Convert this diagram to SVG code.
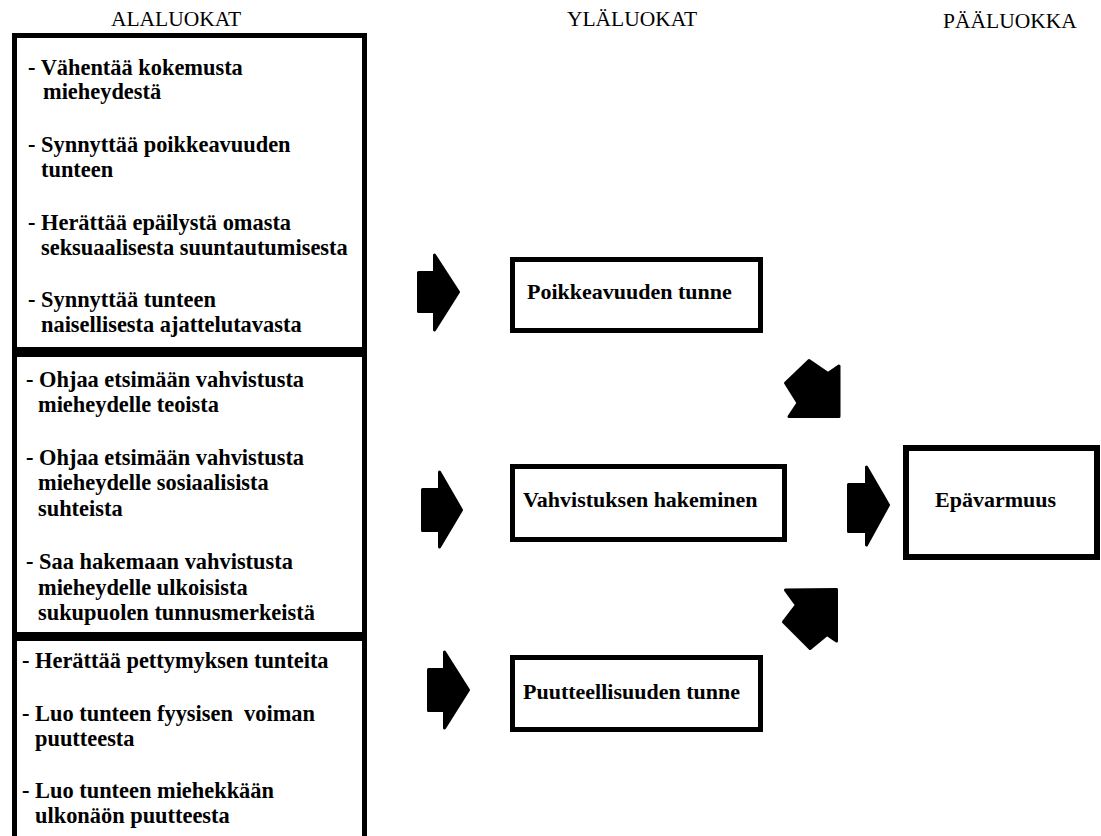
<svg xmlns="http://www.w3.org/2000/svg" width="1101" height="836" viewBox="0 0 1101 836">
<style>
.hdr{font-family:'Liberation Serif','Times New Roman',serif;font-size:21.5px;fill:#000;text-anchor:middle}
.t{font-family:'Liberation Serif','Times New Roman',serif;font-size:22px;font-weight:bold;fill:#000}
.l{font-size:22.4px}
.box{fill:#fff;stroke:#000;stroke-width:5}
.arr{fill:#000;stroke:#000;stroke-width:3;stroke-linejoin:round}
</style>
<rect width="1101" height="836" fill="#fff"/>
<g id="headers">
<text class="hdr" x="176" y="26">ALALUOKAT</text>
<text class="hdr" x="632" y="26">YLÄLUOKAT</text>
<text class="hdr" x="1010" y="28">PÄÄLUOKKA</text>
</g>
<g id="sub1">
<rect class="box" x="14.5" y="35.5" width="350" height="314"/>
<text class="t l" x="28" y="75">- Vähentää kokemusta</text>
<text class="t l" x="43" y="99">mieheydestä</text>
<text class="t l" x="28" y="152">- Synnyttää poikkeavuuden</text>
<text class="t l" x="41" y="177">tunteen</text>
<text class="t l" x="28" y="230">- Herättää epäilystä omasta</text>
<text class="t l" x="41" y="255">seksuaalisesta suuntautumisesta</text>
<text class="t l" x="28" y="307">- Synnyttää tunteen</text>
<text class="t l" x="41" y="332">naisellisesta ajattelutavasta</text>
</g>
<g id="sub2">
<rect class="box" x="14.5" y="354.5" width="350" height="280"/>
<text class="t l" x="26" y="387">- Ohjaa etsimään vahvistusta</text>
<text class="t l" x="38" y="412">mieheydelle teoista</text>
<text class="t l" x="26" y="465">- Ohjaa etsimään vahvistusta</text>
<text class="t l" x="38" y="490">mieheydelle sosiaalisista</text>
<text class="t l" x="38" y="516">suhteista</text>
<text class="t l" x="26" y="569">- Saa hakemaan vahvistusta</text>
<text class="t l" x="38" y="595">mieheydelle ulkoisista</text>
<text class="t l" x="38" y="620">sukupuolen tunnusmerkeistä</text>
</g>
<g id="sub3">
<rect class="box" x="14.5" y="638.5" width="350" height="220"/>
<text class="t l" x="22" y="668">- Herättää pettymyksen tunteita</text>
<text class="t l" x="22" y="721" xml:space="preserve">- Luo tunteen fyysisen  voiman</text>
<text class="t l" x="35" y="746">puutteesta</text>
<text class="t l" x="22" y="798">- Luo tunteen miehekkään</text>
<text class="t l" x="35" y="823">ulkonäön puutteesta</text>
</g>
<g id="poikkeavuus">
<rect class="box" x="512.5" y="259.5" width="248" height="71"/>
<text class="t" x="527" y="299">Poikkeavuuden tunne</text>
</g>
<g id="vahvistus">
<rect class="box" x="512.5" y="466.5" width="272" height="73"/>
<text class="t" x="523" y="507">Vahvistuksen hakeminen</text>
</g>
<g id="puutteellisuus">
<rect class="box" x="512.5" y="657.5" width="248" height="72"/>
<text class="t" x="523" y="699">Puutteellisuuden tunne</text>
</g>
<g id="epavarmuus">
<rect class="box" x="906" y="448" width="191" height="109" style="stroke-width:6"/>
<text class="t" x="935" y="507">Epävarmuus</text>
</g>
<g id="connectors">
<polygon class="arr" points="418.5,272.5 434.5,272.5 434.5,255 458.5,292 434.5,330 434.5,311.5 418.5,311.5"/>
<polygon class="arr" points="422.5,489.5 439.5,489.5 439.5,472 461.5,510 439.5,547 439.5,530.5 422.5,530.5"/>
<polygon class="arr" points="848.5,484.5 866.5,484.5 866.5,467 888.5,505 866.5,545 866.5,531.5 848.5,531.5"/>
<polygon class="arr" points="428.5,669.5 444.5,669.5 444.5,652 468.5,690 444.5,728 444.5,710.5 428.5,710.5"/>
<polygon class="arr" points="809,360.5 785.5,383 798,403 789,416.5 839,416.5 839,366 828,373.5"/>
<polygon class="arr" points="785.5,590 836.5,589.5 836.5,641 827,634.5 810,648.5 783.5,622 796.5,605"/>
</g>
</svg>
